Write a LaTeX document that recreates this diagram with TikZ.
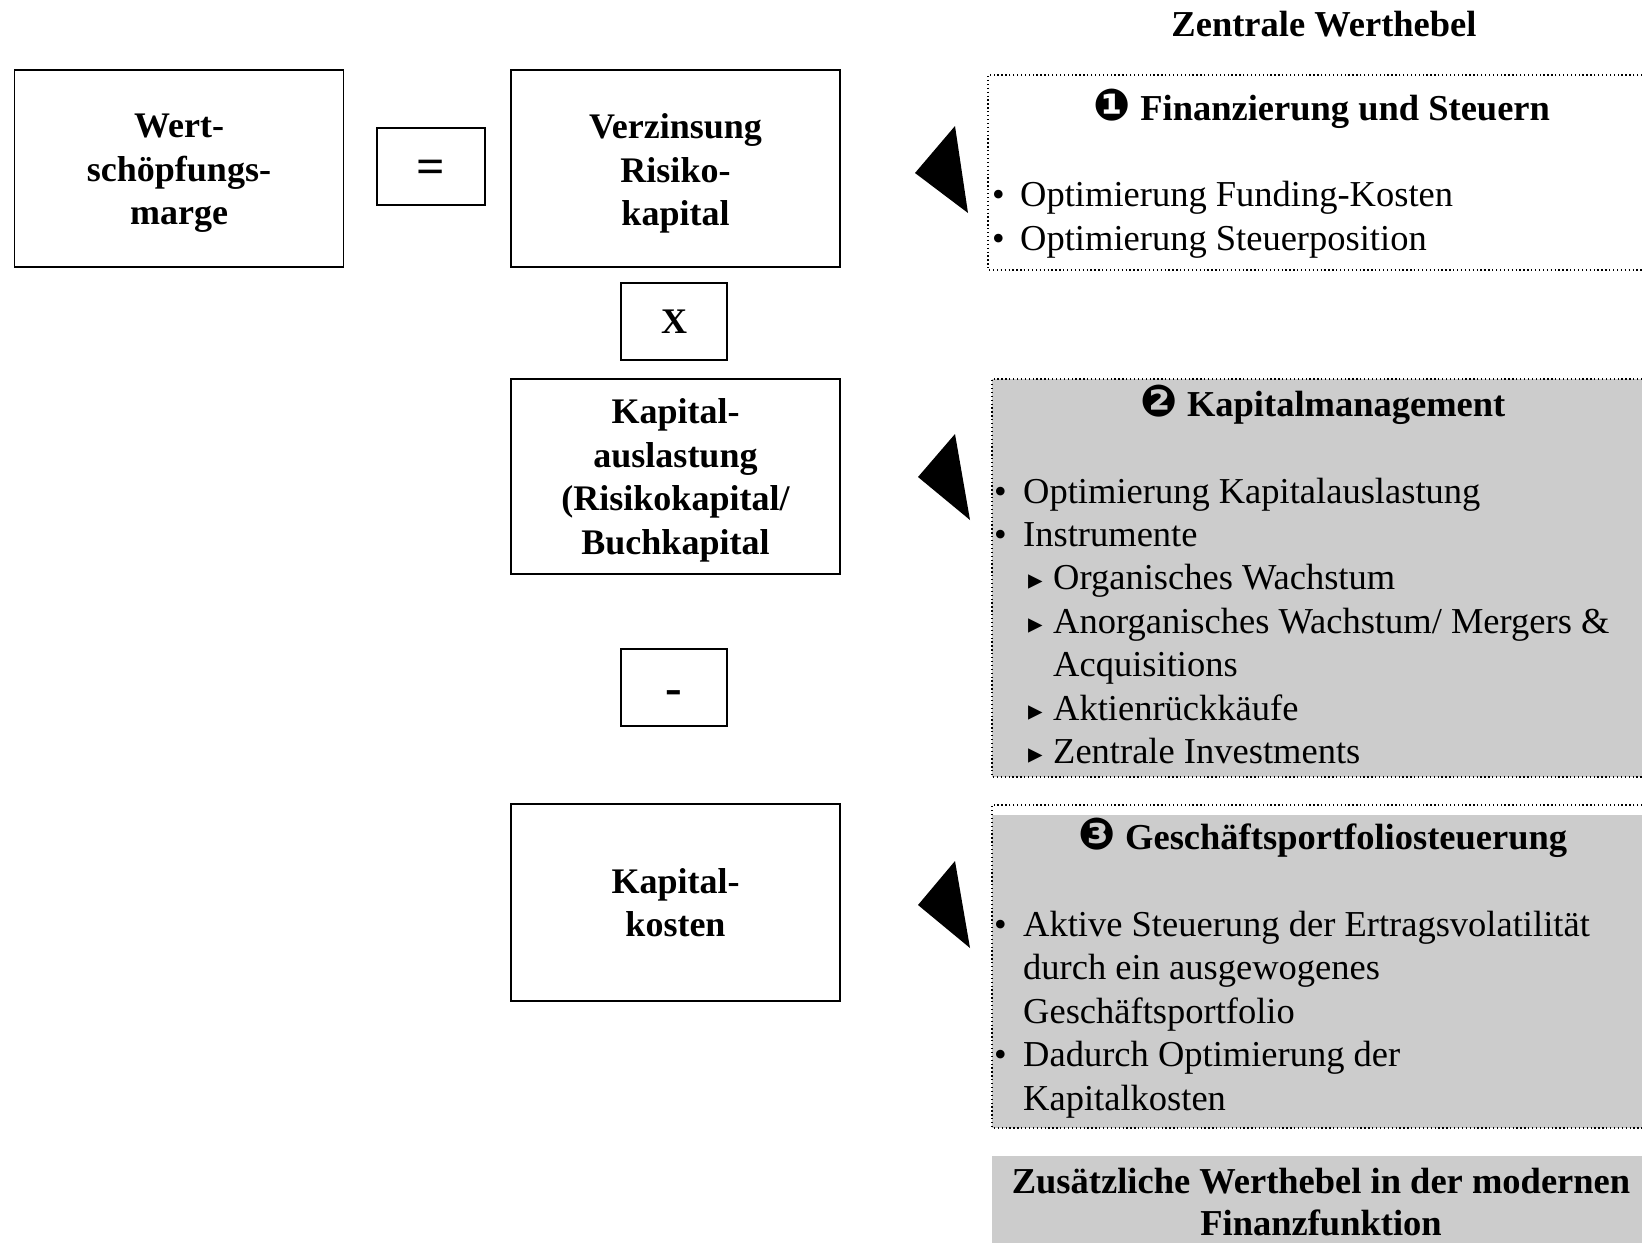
\documentclass[tikz,border=0pt]{standalone}
\usepackage{fontspec}
\setmainfont{Liberation Serif}
\newfontfamily\dejavu{DejaVu Sans}
\definecolor{boxgray}{HTML}{CCCCCC}
\newcommand{\circnum}[1]{{\dejavu\fontsize{44}{44}\selectfont #1}}
\begin{document}
\begin{tikzpicture}[x=1pt,y=-1pt,
  mainbox/.style={draw, line width=1.6pt, inner sep=0pt},
  boxtext/.style={align=center, inner sep=0pt, font=\fontsize{36}{43.5}\selectfont\bfseries},
  opbox/.style={draw, line width=1.6pt, inner sep=0pt},
  optext/.style={inner sep=0pt, font=\fontsize{50}{50}\selectfont\bfseries},
  dotline/.style={line width=1.3pt, dash pattern=on 1.3pt off 2.6pt},
  body/.style={anchor=base west, inner sep=0pt, font=\fontsize{36.5}{43.5}\selectfont},
  bul/.style={anchor=base west, inner sep=0pt, font=\fontsize{36}{43.5}\selectfont},
  sub/.style={anchor=base west, inner sep=0pt, font=\dejavu\fontsize{29}{29}\selectfont},
  head/.style={anchor=base, inner sep=0pt, font=\fontsize{36.5}{43.5}\selectfont\bfseries},
  arrowtri/.style={fill=black}
]
\useasboundingbox (0,0) rectangle (1642,1243);

% title
\node[head] (title) at (1324,36) {Zentrale Werthebel};

% left formula boxes
\node[mainbox, minimum width=329pt, minimum height=197pt] (wert) at (179,168.5) {};
\node[boxtext] (wertT) at ([yshift=-5pt]wert.center) {Wert-\\schöpfungs-\\marge};
\node[opbox, minimum width=108pt, minimum height=77pt] (eq) at (431,166.5) {};
\node[optext] (eqT) at ([yshift=-5pt]eq.center) {=};
\node[mainbox, minimum width=329pt, minimum height=197pt] (verz) at (675.5,168.5) {};
\node[boxtext] (verzT) at ([yshift=-5pt]verz.center) {Verzinsung\\Risiko-\\kapital};
\node[opbox, minimum width=106pt, minimum height=77pt] (mal) at (674,321.5) {};
\node[boxtext] (malT) at (mal.center) {X};
\node[mainbox, minimum width=329pt, minimum height=195pt] (ausl) at (675.5,476.5) {};
\node[boxtext] (auslT) at ([yshift=-4pt]ausl.center) {Kapital-\\auslastung\\(Risikokapital/\\Buchkapital};
\node[opbox, minimum width=106pt, minimum height=77pt] (minus) at (674,687.5) {};
\node[optext] (minusT) at ([yshift=-10pt]minus.center) {-};
\node[mainbox, minimum width=329pt, minimum height=197pt] (kost) at (675.5,902.5) {};
\node[boxtext] (kostT) at (kost.center) {Kapital-\\kosten};

% triangles
\fill[arrowtri] (915,173) -- (955,126) -- (968,213) -- cycle;
\fill[arrowtri] (918,477) -- (955,434) -- (970,520) -- cycle;
\fill[arrowtri] (918,905) -- (955,861) -- (970,948) -- cycle;

% box A
\draw[dotline] (1650,75) -- (988,75) -- (988,270) -- (1650,270);
\node[head] (hA) at (1322,120) {\circnum{❶} Finanzierung und Steuern};
\node[bul] (bA1) at (992,206) {•};
\node[body] (tA1) at (1020,206) {Optimierung Funding-Kosten};
\node[bul] (bA2) at (992,250) {•};
\node[body] (tA2) at (1020,250) {Optimierung Steuerposition};

% box B
\fill[boxgray] (992,379) rectangle (1642,777);
\draw[dotline] (1650,379) -- (992,379) -- (992,777) -- (1650,777);
\node[head] (hB) at (1323,416) {\circnum{❷} Kapitalmanagement};
\node[bul] (bB1) at (994,503) {•};
\node[body] (tB1) at (1023,503) {Optimierung Kapitalauslastung};
\node[bul] (bB2) at (994,546.4) {•};
\node[body] (tB2) at (1023,546.4) {Instrumente};
\node[sub] (sB1) at (1028,589.8) {▸};
\node[body] (tB3) at (1053,589.8) {Organisches Wachstum};
\node[sub] (sB2) at (1028,633.2) {▸};
\node[body] (tB4) at (1053,633.2) {Anorganisches Wachstum/ Mergers \&};
\node[body] (tB5) at (1053,676.6) {Acquisitions};
\node[sub] (sB3) at (1028,720) {▸};
\node[body] (tB6) at (1053,720) {Aktienrückkäufe};
\node[sub] (sB4) at (1028,763.4) {▸};
\node[body] (tB7) at (1053,763.4) {Zentrale Investments};

% box C
\fill[boxgray] (992,815) rectangle (1642,1128);
\draw[dotline] (1650,805) -- (992,805) -- (992,1128) -- (1650,1128);
\node[head] (hC) at (1323,849) {\circnum{❸} Geschäftsportfoliosteuerung};
\node[bul] (bC1) at (994,936) {•};
\node[body] (tC1) at (1023,936) {Aktive Steuerung der Ertragsvolatilität};
\node[body] (tC2) at (1023,979.5) {durch ein ausgewogenes};
\node[body] (tC3) at (1023,1023) {Geschäftsportfolio};
\node[bul] (bC2) at (994,1066.5) {•};
\node[body] (tC4) at (1023,1066.5) {Dadurch Optimierung der};
\node[body] (tC5) at (1023,1110) {Kapitalkosten};

% bottom box
\fill[boxgray] (992,1156) rectangle (1642,1243);
\node[head] (bot1) at (1321,1193) {Zusätzliche Werthebel in der modernen};
\node[head] (bot2) at (1321,1235) {Finanzfunktion};
\end{tikzpicture}
\end{document}
